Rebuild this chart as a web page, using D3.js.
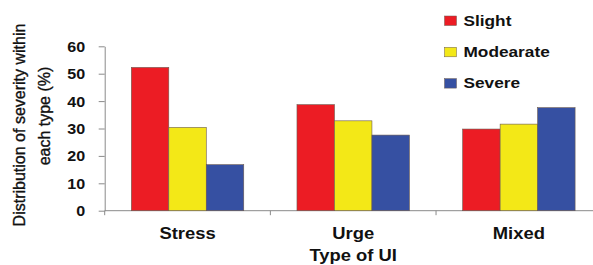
<!DOCTYPE html>
<html>
<head>
<meta charset="utf-8">
<script src="https://cdn.jsdelivr.net/npm/d3@7"></script>
<style>
  body { margin: 0; background: #fff; }
  text { font-family: "Liberation Sans", Arial, sans-serif; fill: #111; }
</style>
</head>
<body>
<div id="chart"></div>
<script>
// data
var categories = ["Stress", "Urge", "Mixed"];
var series = ["Slight", "Modearate", "Severe"];
var slight = [52.3, 38.7, 29.8];
var moderate = [30.4, 32.8, 31.6];
var severe = [16.8, 27.6, 37.6];
var yTicks = [0, 10, 20, 30, 40, 50, 60];
var colors = ["#ec1c24", "#f3e817", "#3650a2"];

var values = [slight, moderate, severe];
var rows = categories.map(function(c, i) {
    return { cat: c, vals: series.map(function(s, j) { return { s: s, v: values[j][i] }; }) };
});

var W = 593, H = 265;
var svg = d3.select("#chart").append("svg").attr("width", W).attr("height", H);

// horizontal stretch seen in the picture
var sx = 1.15;

var x0 = d3.scaleBand().domain(categories).range([104.7, 601.7]).paddingInner(0).paddingOuter(0);
var x1 = d3.scaleBand().domain(series).range([0, x0.bandwidth()]).paddingInner(0).paddingOuter(0.71);
var y = d3.scaleLinear().domain([0, 60]).range([210.7, 46.3]);

// y axis
var yAxis = svg.append("g")
    .attr("transform", "translate(" + x0.range()[0] + ",0)")
    .call(d3.axisLeft(y).tickValues(yTicks).tickSize(6).tickSizeOuter(0));
yAxis.select(".domain").attr("stroke", "#8a8a8a");
yAxis.selectAll(".tick line").attr("stroke", "#8a8a8a");
yAxis.selectAll(".tick text")
    .attr("x", 0).attr("dy", "0.36em")
    .attr("transform", "translate(-19.5,0) scale(" + sx + ",1)")
    .style("font-size", "14px").style("font-weight", "bold")
    .style("fill", "#111");

// x axis line + boundary ticks
svg.append("line")
    .attr("x1", x0.range()[0]).attr("x2", x0.range()[1])
    .attr("y1", y(0)).attr("y2", y(0))
    .attr("stroke", "#8a8a8a");
svg.selectAll(".xtick").data(categories).enter().append("line")
    .attr("class", "xtick")
    .attr("x1", function(d) { return x0(d); }).attr("x2", function(d) { return x0(d); })
    .attr("y1", y(0)).attr("y2", y(0) + 4.5)
    .attr("stroke", "#8a8a8a");

// bars
var groups = svg.selectAll(".grp").data(rows).enter().append("g")
    .attr("class", "grp")
    .attr("transform", function(d) { return "translate(" + x0(d.cat) + ",0)"; });
groups.selectAll("rect").data(function(d) { return d.vals; }).enter().append("rect")
    .attr("x", function(d) { return x1(d.s); })
    .attr("width", x1.bandwidth())
    .attr("y", function(d) { return y(d.v); })
    .attr("height", function(d) { return y(0) - y(d.v); })
    .attr("fill", function(d, i) { return colors[i]; })
    .attr("stroke", "#6b5a50").attr("stroke-width", 0.6);

// category labels
svg.selectAll(".cat").data(categories).enter().append("text")
    .attr("class", "cat")
    .attr("text-anchor", "middle")
    .attr("transform", function(d) { return "translate(" + (x0(d) + x0.bandwidth() / 2) + ",239) scale(" + sx + ",1)"; })
    .style("font-size", "16px").style("font-weight", "bold")
    .text(function(d) { return d; });

// x title (the reference crops its descenders; kept inside here)
svg.append("text")
    .attr("text-anchor", "middle")
    .attr("transform", "translate(" + ((x0.range()[0] + x0.range()[1]) / 2) + ",261.3) scale(" + sx + ",1)")
    .style("font-size", "16px").style("font-weight", "bold")
    .text("Type of UI");

// y title
svg.append("text")
    .attr("text-anchor", "middle")
    .attr("transform", "translate(25,125) rotate(-90)")
    .style("font-size", "16px")
    .style("stroke", "#111").style("stroke-width", 0.35)
    .text("Distribution of severity within");
svg.append("text")
    .attr("text-anchor", "middle")
    .attr("transform", "translate(50,116) rotate(-90)")
    .style("font-size", "16px")
    .style("stroke", "#111").style("stroke-width", 0.35)
    .text("each type (%)");

// legend
var legend = svg.selectAll(".leg").data(series).enter().append("g")
    .attr("class", "leg")
    .attr("transform", function(d, i) { return "translate(444.5," + (16 + i * 31.3) + ")"; });
legend.append("rect")
    .attr("width", 12).attr("height", 9.5)
    .attr("fill", function(d, i) { return colors[i]; })
    .attr("stroke", "#6b5a50").attr("stroke-width", 0.5);
legend.append("text")
    .attr("transform", "translate(19,9.8) scale(" + sx + ",1)")
    .style("font-size", "15px").style("font-weight", "bold")
    .text(function(d) { return d; });
</script>
</body>
</html>
